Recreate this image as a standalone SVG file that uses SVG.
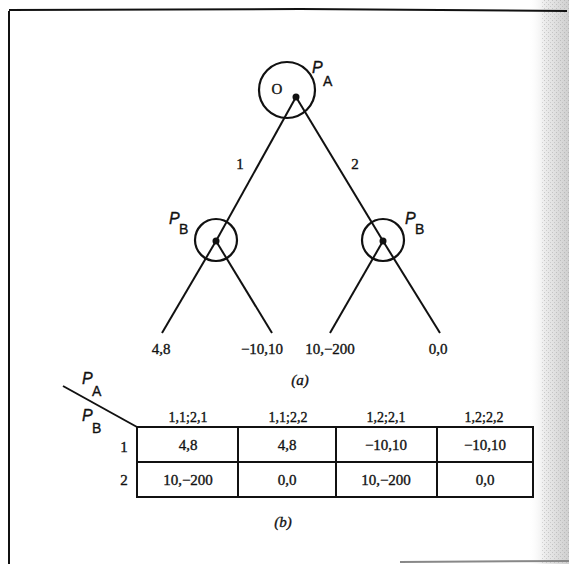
<svg xmlns="http://www.w3.org/2000/svg" width="569" height="564" viewBox="0 0 569 564">
<defs>
<style>
.ln{stroke:#111;stroke-width:2;fill:none}
.circ{stroke:#111;stroke-width:2.2;fill:none}
text{stroke:#111;stroke-width:0.35}
.t{font-family:"Liberation Serif",serif;font-size:15px;fill:#111;text-anchor:middle}
.h{font-family:"Liberation Serif",serif;font-size:14px;fill:#111;text-anchor:middle}
.p{font-family:"Liberation Sans",sans-serif;font-style:italic;font-size:16px;fill:#111}
.s{font-family:"Liberation Sans",sans-serif;font-size:14px;fill:#111}
.cap{font-family:"Liberation Serif",serif;font-style:italic;font-size:15px;fill:#111;text-anchor:middle}
.tb{stroke:#111;stroke-width:2;fill:none}
</style>
<linearGradient id="edge" x1="0" y1="0" x2="1" y2="0">
<stop offset="0" stop-color="#fff" stop-opacity="0"/>
<stop offset="0.4" stop-color="#ececec"/>
<stop offset="1" stop-color="#cfcfcf"/>
</linearGradient>
<pattern id="dots" width="4" height="4" patternUnits="userSpaceOnUse">
<rect x="0" y="0" width="1" height="1" fill="#888"/>
<rect x="2" y="2" width="1" height="1" fill="#999"/>
</pattern>
</defs>
<rect width="569" height="564" fill="#fff"/>
<g id="page-edge">
<rect x="528" y="0" width="41" height="564" fill="url(#edge)"/>
<rect x="542" y="0" width="27" height="564" fill="url(#dots)" opacity="0.35"/>
</g>
<g id="frame">
<path class="ln" d="M9,11 L9,564"/>
<path class="ln" d="M9,10 L300,9 L567,11"/>
<path d="M400,562 L569,561" stroke="#888" stroke-width="2"/>
</g>
<g id="connectors">
<line class="ln" x1="296" y1="97" x2="216" y2="241"/>
<line class="ln" x1="296" y1="97" x2="383" y2="241"/>
<line class="ln" x1="216" y1="241" x2="162" y2="333"/>
<line class="ln" x1="216" y1="241" x2="272" y2="333"/>
<line class="ln" x1="383" y1="241" x2="330" y2="333"/>
<line class="ln" x1="383" y1="241" x2="440" y2="333"/>
<text class="t" x="240" y="169">1</text>
<text class="t" x="355" y="169">2</text>
</g>
<g id="node-root">
<circle class="circ" cx="287" cy="90" r="28"/>
<circle cx="296" cy="97" r="3.5" fill="#111"/>
<text class="t" x="277" y="94" font-size="17">O</text>
<text class="p" x="312" y="73">P</text>
<text class="s" x="323" y="86">A</text>
</g>
<g id="node-left">
<circle class="circ" cx="216" cy="240" r="21"/>
<circle cx="216" cy="241" r="3.5" fill="#111"/>
<text class="p" x="169" y="224">P</text>
<text class="s" x="179" y="234">B</text>
</g>
<g id="node-right">
<circle class="circ" cx="383" cy="240" r="21"/>
<circle cx="383" cy="241" r="3.5" fill="#111"/>
<text class="p" x="405" y="224">P</text>
<text class="s" x="415" y="234">B</text>
</g>
<g id="leaves">
<text class="t" x="161" y="354">4,8</text>
<text class="t" x="262" y="354">−10,10</text>
<text class="t" x="330" y="354">10,−200</text>
<text class="t" x="438" y="354">0,0</text>
</g>
<text class="cap" x="300" y="385">(a)</text>
<g id="matrix">
<line class="ln" x1="63" y1="386" x2="137" y2="427"/>
<text class="p" x="82" y="384">P</text>
<text class="s" x="92" y="396">A</text>
<text class="p" x="82" y="421">P</text>
<text class="s" x="92" y="433">B</text>
<rect class="tb" x="137" y="427" width="396" height="70"/>
<line class="tb" x1="137" y1="462" x2="533" y2="462"/>
<line class="tb" x1="238" y1="427" x2="238" y2="497"/>
<line class="tb" x1="336" y1="427" x2="336" y2="497"/>
<line class="tb" x1="437" y1="427" x2="437" y2="497"/>
<text class="h" x="188" y="422">1,1;2,1</text>
<text class="h" x="288" y="422">1,1;2,2</text>
<text class="h" x="386" y="422">1,2;2,1</text>
<text class="h" x="484" y="422">1,2;2,2</text>
<text class="t" x="124" y="452">1</text>
<text class="t" x="124" y="485">2</text>
<text class="t" x="188" y="450">4,8</text>
<text class="t" x="287" y="450">4,8</text>
<text class="t" x="386" y="450">−10,10</text>
<text class="t" x="485" y="450">−10,10</text>
<text class="t" x="188" y="485">10,−200</text>
<text class="t" x="287" y="485">0,0</text>
<text class="t" x="386" y="485">10,−200</text>
<text class="t" x="485" y="485">0,0</text>
</g>
<text class="cap" x="283" y="527">(b)</text>
</svg>
